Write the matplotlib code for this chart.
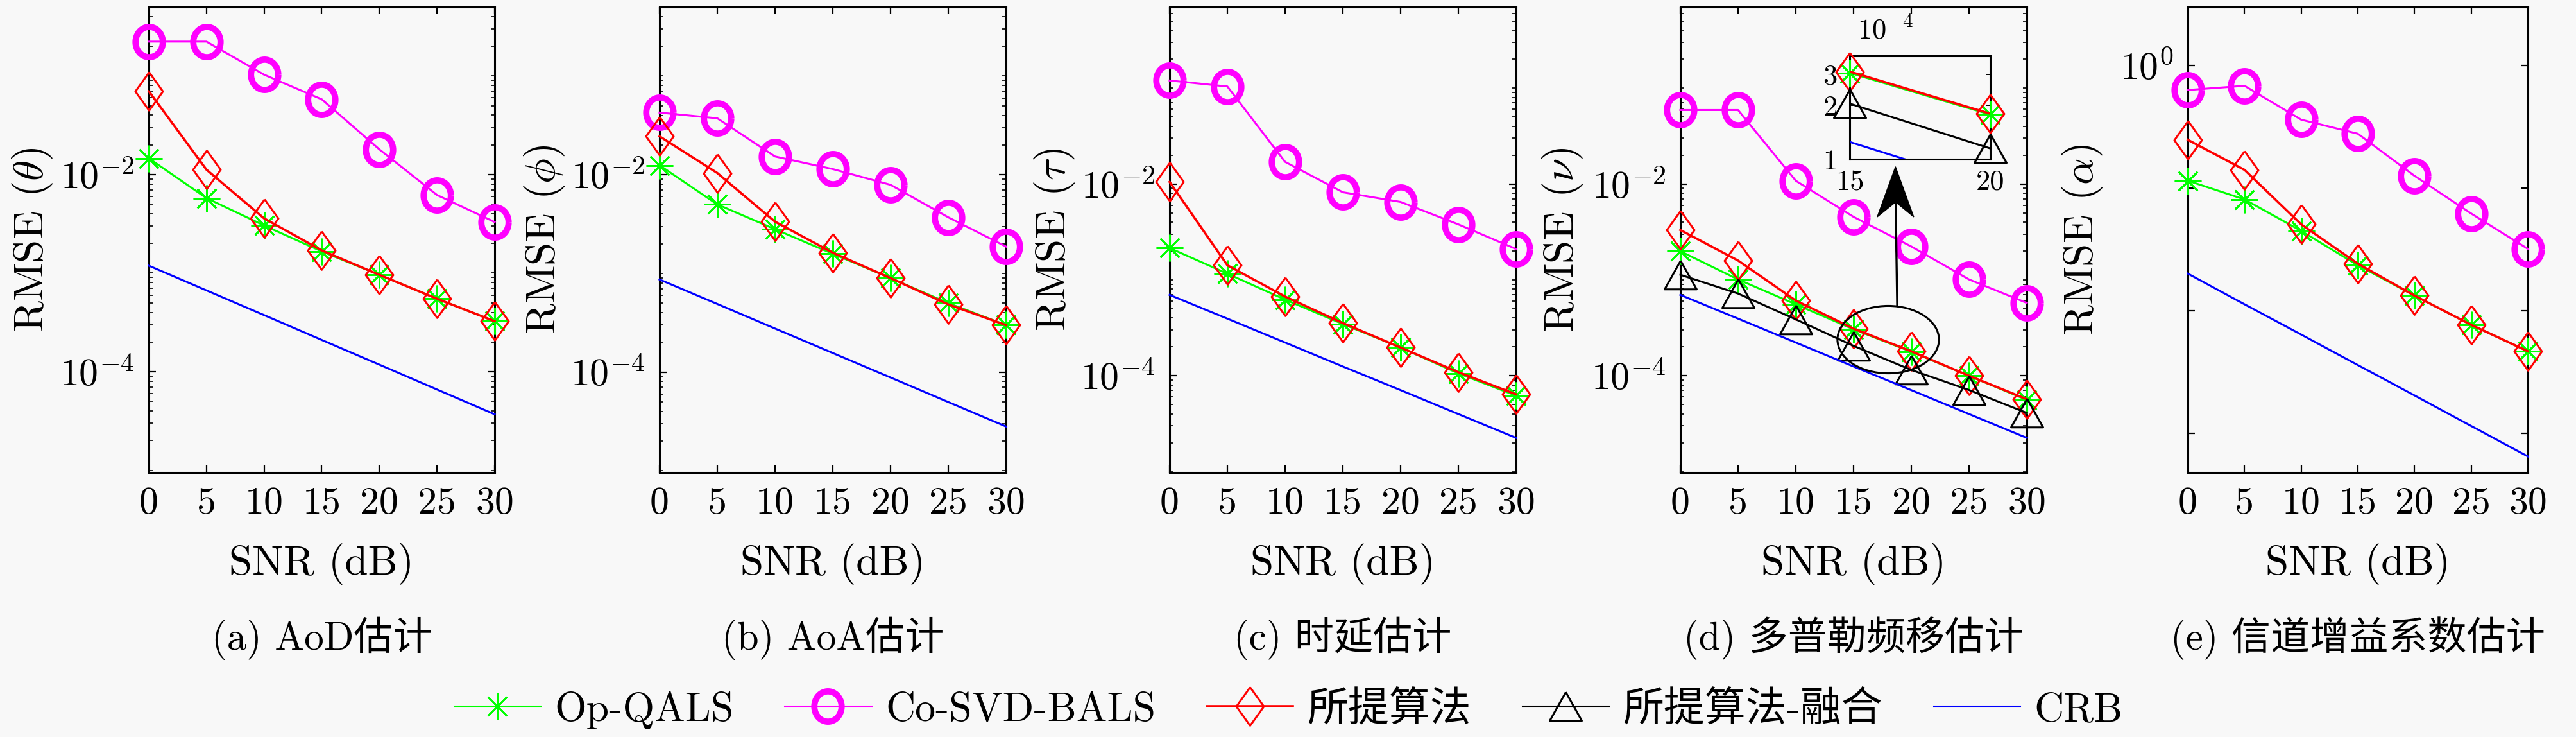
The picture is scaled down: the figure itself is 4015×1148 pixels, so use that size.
import numpy as np
import matplotlib
matplotlib.use('Agg')
import matplotlib.pyplot as plt
from matplotlib.patches import Ellipse, Polygon
from matplotlib.lines import Line2D
from matplotlib.ticker import LogLocator, NullLocator, FixedLocator, NullFormatter

# ---------------- data ----------------
snr = [0, 5, 10, 15, 20, 25, 30]

a_op = [0.0146, 0.00577, 0.00304, 0.00166, 0.00096, 0.00055, 0.000325]
a_co = [0.223, 0.223, 0.103, 0.058, 0.018, 0.0062, 0.0033]
a_pr = [0.070, 0.0112, 0.00359, 0.0017, 0.00096, 0.00055, 0.000325]
a_crb = [1.19e-3, 6.68e-4, 3.75e-4, 2.10e-4, 1.18e-4, 6.6e-5, 3.7e-5]

b_op = [0.01245, 0.0050, 0.0028, 0.00158, 0.000896, 0.0005, 0.000299]
b_co = [0.0426, 0.0373, 0.0153, 0.0114, 0.0079, 0.0037, 0.00187]
b_pr = [0.0245, 0.0104, 0.00334, 0.00162, 0.000896, 0.000485, 0.000299]
b_crb = [8.67e-4, 4.90e-4, 2.76e-4, 1.56e-4, 8.81e-5, 4.97e-5, 2.81e-5]

c_op = [0.00215, 0.00116, 0.000623, 0.000346, 0.000197, 0.000106, 6.2e-5]
c_co = [0.12, 0.104, 0.017, 0.0082, 0.0065, 0.00379, 0.0021]
c_pr = [0.0105, 0.00142, 0.00067, 0.000354, 0.000197, 0.000109, 6.4e-5]
c_crb = [6.97e-4, 3.94e-4, 2.22e-4, 1.25e-4, 7.08e-5, 3.99e-5, 2.25e-5]

d_op = [0.00199, 0.00101, 0.000556, 3.05e-4, 1.78e-4, 1.0e-4, 5.6e-5]
d_co = [0.059, 0.059, 0.0108, 0.00454, 0.00223, 0.00101, 0.000575]
d_pr = [0.00331, 0.00159, 0.000608, 3.1e-4, 1.8e-4, 1.0e-4, 5.7e-5]
d_fu = [0.00113, 0.00072, 0.000387, 2.05e-4, 1.15e-4, 7.1e-5, 4.1e-5]
d_crb = [6.97e-4, 3.94e-4, 2.22e-4, 1.25e-4, 7.08e-5, 3.99e-5, 2.25e-5]

e_op = [0.115, 0.081, 0.0448, 0.0235, 0.0133, 0.00768, 0.00468]
e_co = [0.632, 0.684, 0.362, 0.278, 0.126, 0.0621, 0.032]
e_pr = [0.248, 0.141, 0.0507, 0.0242, 0.0133, 0.00768, 0.00468]
e_crb = [2.01e-2, 1.13e-2, 6.40e-3, 3.61e-3, 2.04e-3, 1.15e-3, 6.49e-4]

series_names = ['Op-QALS', 'Co-SVD-BALS', '所提算法', '所提算法-融合', 'CRB']
ylabels = [r'RMSE ($\theta$)', r'RMSE ($\phi$)', r'RMSE ($\tau$)',
           r'RMSE ($\nu$)', r'RMSE ($\alpha$)']
captions = ['(a) AoD估计', '(b) AoA估计', '(c) 时延估计',
            '(d) 多普勒频移估计', '(e) 信道增益系数估计']
xticks = [0, 5, 10, 15, 20, 25, 30]
ytick_vals = [[1e-4, 1e-2], [1e-4, 1e-2], [1e-4, 1e-2], [1e-4, 1e-2],
              [1e-3, 1e-2, 1e-1, 1e0]]
ytick_labels = [[r'$10^{-4}$', r'$10^{-2}$']] * 4 + [['', '', '', r'$10^{0}$']]
inset_yticks = [1e-4, 2e-4, 3e-4]
inset_ylabels = ['1', '2', '3']
inset_xticks = [15, 20]

# ---------------- style ----------------
BG = '#f8f8f8'
plt.rcParams['font.family'] = ['cmr10', 'Noto Sans CJK SC']
plt.rcParams['mathtext.fontset'] = 'cm'
plt.rcParams['axes.formatter.use_mathtext'] = True
plt.rcParams['axes.unicode_minus'] = True

t = np.linspace(0, 2 * np.pi, 64)
ell_marker = np.column_stack([0.9 * np.cos(t), np.sin(t)])
dia_marker = [(0, 1), (0.72, 0), (0, -1), (-0.72, 0), (0, 1)]
tri_marker = [(0, 0.89), (1, -0.89), (-1, -0.89), (0, 0.89)]

styles = [
    dict(color=(0, 1, 0), lw=2.2, marker=(8, 2, 0), ms=30, mew=2.0, mec=(0, 1, 0)),
    dict(color=(1, 0, 1), lw=2.2, marker=ell_marker, ms=34, mew=7, mfc='none', mec=(1, 0, 1)),
    dict(color=(1, 0, 0), lw=2.6, marker=dia_marker, ms=43, mew=2.2, mfc='none', mec=(1, 0, 0)),
    dict(color='k', lw=2.2, marker=tri_marker, ms=36, mew=2.2, mfc='none', mec='k'),
    dict(color=(0, 0, 1), lw=2.2),
]

W, H = 4016, 1148
fig = plt.figure(figsize=(W / 100, H / 100), dpi=100, facecolor=BG)

lefts = [232, 1028, 1823, 2619, 3410]
widths = [539, 540, 540, 540, 530]
top_px, bot_px = 11, 736
ylims = [(9.5e-6, 0.5), (9.6e-6, 0.5), (9.8e-6, 0.7), (9.8e-6, 0.7), (4.8e-4, 3.0)]
ylab_x = [-0.336, -0.333, -0.333, -0.339, -0.31]

data = [
    [a_op, a_co, a_pr, None, a_crb],
    [b_op, b_co, b_pr, None, b_crb],
    [c_op, c_co, c_pr, None, c_crb],
    [d_op, d_co, d_pr, d_fu, d_crb],
    [e_op, e_co, e_pr, None, e_crb],
]

TICK_FS = 43
LAB_FS = 47
CAP_FS = 44
legend_handles = {}

for i in range(5):
    ax = fig.add_axes([lefts[i] / W, 1 - bot_px / H, widths[i] / W, (bot_px - top_px) / H])
    ax.set_facecolor(BG)
    for j, ys in enumerate(data[i]):
        if ys is None:
            continue
        ln, = ax.plot(snr, ys, label=series_names[j], clip_on=False, zorder=3 + j, **styles[j])
        legend_handles[j] = ln
    ax.set_yscale('log')
    ax.set_xlim(0, 30)
    ax.set_ylim(*ylims[i])
    ax.set_xticks(xticks)
    ax.set_xticklabels([str(v) for v in xticks])
    ax.yaxis.set_major_locator(FixedLocator(ytick_vals[i]))
    ax.set_yticklabels(ytick_labels[i])
    if i < 4:
        ax.yaxis.set_minor_locator(LogLocator(base=10, subs=np.arange(1, 10), numticks=100))
    else:
        ax.yaxis.set_minor_locator(NullLocator())
    ax.yaxis.set_minor_formatter(NullFormatter())
    ax.xaxis.set_minor_locator(NullLocator())
    ax.tick_params(which='both', direction='in', top=True, right=True, labelsize=TICK_FS)
    ax.tick_params(which='major', length=8, width=1.6, pad=16)
    ax.tick_params(which='minor', length=4, width=1.2)
    for s in ax.spines.values():
        s.set_linewidth(2.2)
    ax.set_xlabel('SNR (dB)', fontsize=LAB_FS, va='center')
    ax.xaxis.set_label_coords(0.5, -0.196)
    ax.set_ylabel(ylabels[i], fontsize=LAB_FS, va='center')
    ax.yaxis.set_label_coords(ylab_x[i], 0.5)
    ax.text(0.5, -0.356, captions[i], transform=ax.transAxes, ha='center', va='center',
            fontsize=CAP_FS)

    if i == 3:
        # ellipse and arrow (annotation)
        ax.add_patch(Ellipse((0.6, 0.2855), 0.293, 0.145, transform=ax.transAxes,
                             fill=False, ec='k', lw=2.2, clip_on=False, zorder=10))
        tip = (0.621, 0.657)
        notch = (0.6215, 0.581)
        ax.add_line(Line2D([0.626, notch[0]], [0.359, notch[1] + 0.005], transform=ax.transAxes,
                           color='k', lw=2.4, zorder=10, clip_on=False))
        ax.add_patch(Polygon([tip, (0.5682, 0.549), notch, (0.6738, 0.549)], closed=True,
                             transform=ax.transAxes, fc='k', ec='k', lw=1, zorder=10,
                             clip_on=False))
        # inset
        ins = fig.add_axes([2883 / W, 1 - 248 / H, 219 / W, 161 / H])
        ins.set_facecolor(BG)
        for j, ys in enumerate(data[i]):
            if ys is None or j == 1:
                continue
            st = dict(styles[j])
            for k in ('marker', 'ms', 'mew', 'mfc', 'mec'):
                st.pop(k, None)
            ins.plot(snr, ys, zorder=3 + j, **st)
            if j in (0, 2, 3):
                ins.plot(snr, ys, ls='none', markevery=[3, 4], clip_on=False, zorder=3 + j,
                         **{k: v for k, v in styles[j].items() if k not in ('lw',)})
        ins.set_yscale('log')
        ins.set_xlim(15, 20)
        ins.set_ylim(1e-4, 3.8e-4)
        ins.xaxis.set_major_locator(FixedLocator(inset_xticks))
        ins.set_xticklabels([str(v) for v in inset_xticks])
        ins.yaxis.set_major_locator(FixedLocator(inset_yticks))
        ins.set_yticklabels(inset_ylabels)
        ins.yaxis.set_minor_locator(NullLocator())
        ins.yaxis.set_minor_formatter(NullFormatter())
        ins.xaxis.set_minor_locator(NullLocator())
        ins.tick_params(which='both', direction='in', top=True, right=True, labelsize=32,
                        length=5, width=1.4)
        ins.tick_params(axis='x', pad=12)
        ins.tick_params(axis='y', pad=14)
        for s in ins.spines.values():
            s.set_linewidth(2.2)
        ins.text(0.055, 1.24, r'$10^{-4}$', transform=ins.transAxes, ha='left', va='center',
                 fontsize=32)

handles = [legend_handles[j] for j in range(5)]
fig.legend(handles, series_names, loc='center', bbox_to_anchor=(0.5, 1 - 1106 / H),
           ncol=5, frameon=False, fontsize=46, handlelength=2.1, handletextpad=0.35,
           columnspacing=1.25)

fig.savefig('out.png', dpi=100, facecolor=BG)
